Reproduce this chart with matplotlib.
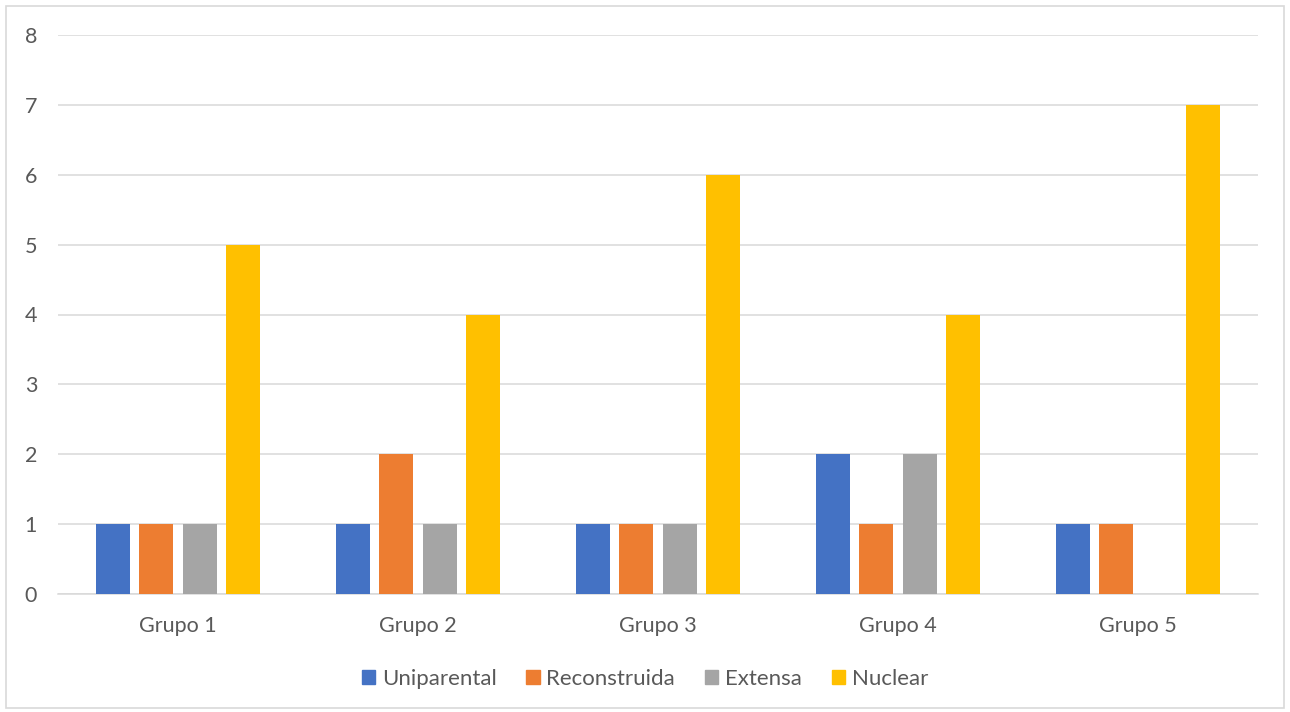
import matplotlib.pyplot as plt
import numpy as np
from matplotlib.patches import Patch, Rectangle

groups = ['Grupo 1', 'Grupo 2', 'Grupo 3', 'Grupo 4', 'Grupo 5']
series = ['Uniparental', 'Reconstruida', 'Extensa', 'Nuclear']
uniparental = [1, 1, 1, 2, 1]
reconstruida = [1, 2, 1, 1, 1]
extensa = [1, 1, 1, 2, 0]
nuclear = [5, 4, 6, 4, 7]
colors = ['#4472C4', '#ED7D31', '#A5A5A5', '#FFC000']

plt.rcParams['font.family'] = ['Lato', 'DejaVu Sans']
text_color = '#595959'

fig = plt.figure(figsize=(12.9, 7.12), dpi=100)
ax = fig.add_axes([58 / 1290, 118 / 712, 1200 / 1290, 559 / 712])

x = np.arange(len(groups))
width = 0.142
step = 0.181
values = [uniparental, reconstruida, extensa, nuclear]
for i, (name, vals, c) in enumerate(zip(series, values, colors)):
    ax.bar(x + (i - 1.5) * step, vals, width, color=c, label=name, zorder=3)

ax.set_xlim(-0.5, len(groups) - 0.5)
ax.set_ylim(0, 8)
ax.set_yticks(range(0, 9))
ax.yaxis.grid(True, color='#D9D9D9', lw=1.1, zorder=0)
for s in ['top', 'right', 'left']:
    ax.spines[s].set_visible(False)
ax.spines['bottom'].set_color('#D9D9D9')
ax.spines['bottom'].set_linewidth(1.1)
ax.set_xticks(x)
ax.set_xticklabels(groups)
ax.tick_params(axis='both', length=0, colors=text_color, labelsize=15.5)
ax.tick_params(axis='x', pad=16)
ax.tick_params(axis='y', pad=15)

handles = [Patch(color=c, label=n) for n, c in zip(series, colors)]
fig.legend(handles=handles, loc='center', bbox_to_anchor=(0.5, 1 - 679 / 712),
           ncol=4, frameon=False, fontsize=16, labelcolor=text_color,
           handlelength=0.6, handleheight=0.6, handletextpad=0.3,
           columnspacing=1.35)

fig.patches.append(Rectangle((6 / 1290, 4 / 712), 1278 / 1290, 702 / 712,
                             transform=fig.transFigure, fill=False,
                             edgecolor='#D9D9D9', lw=1.2))

fig.savefig('out.png', dpi=100)
